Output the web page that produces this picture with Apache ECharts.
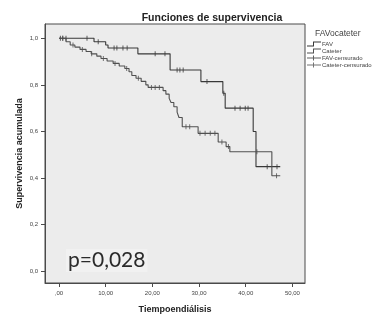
<!DOCTYPE html>
<html>
<head>
<meta charset="utf-8">
<script src="https://cdn.jsdelivr.net/npm/echarts@6/dist/echarts.min.js"></script>
<style>
  html, body { margin: 0; padding: 0; background: #ffffff; }
  #chart { width: 384px; height: 326px; }
</style>
</head>
<body>
<div id="chart"></div>
<script>
// Kaplan-Meier estimates: event times (months) and cumulative survival
const favTimes = [0, 7.5, 10.0, 10.5, 16.9, 23.8, 30.4, 35.1, 35.6, 41.6, 42.2, 47.4];
const favSurv  = [1.0, 0.985, 0.971, 0.958, 0.933, 0.864, 0.814, 0.764, 0.70, 0.60, 0.449, 0.449];

const catTimes = [0, 1.5, 2.4, 3.4, 4.5, 5.8, 6.9, 8.1, 9.0, 10.3, 11.6, 12.9, 14.1, 15.0, 15.6,
                  16.5, 17.6, 18.6, 19.1, 22.3, 22.9, 23.6, 24.0, 24.6, 25.3, 25.7, 26.4, 29.8,
                  34.1, 35.8, 36.6, 45.6, 47.4];
const catSurv  = [1.0, 0.985, 0.971, 0.962, 0.952, 0.943, 0.933, 0.923, 0.913, 0.902, 0.892, 0.881,
                  0.870, 0.856, 0.840, 0.828, 0.815, 0.800, 0.789, 0.775, 0.760, 0.742, 0.724, 0.706,
                  0.683, 0.660, 0.620, 0.592, 0.555, 0.535, 0.513, 0.41, 0.41];

// Censored observations (times)
const favCensored = [0.3, 0.8, 1.5, 6.0, 8.4, 11.8, 12.4, 13.7, 14.6, 20.6, 22.7, 25.3, 25.9, 26.6,
                     31.7, 35.3, 37.7, 38.8, 39.9, 40.5, 44.6, 46.7];
const catCensored = [0.8, 3.0, 5.0, 7.0, 9.5, 12.0, 14.5, 17.0, 19.8, 20.6, 21.5, 27.2, 28.0,
                     30.2, 31.3, 32.4, 33.4, 34.9, 36.3, 42.4, 46.6];

// Axis ticks and labels
const xTicks = [0, 10, 20, 30, 40, 50];
const xTickLabels = [',00', '10,00', '20,00', '30,00', '40,00', '50,00'];
const yTicks = [0, 0.2, 0.4, 0.6, 0.8, 1.0];
const yTickLabels = ['0,0', '0,2', '0,4', '0,6', '0,8', '1,0'];

const seriesNames = ['FAV', 'Cateter', 'FAV-censurado', 'Cateter-censurado'];
const pValueText = 'p=0,028';

function pairs(xs, ys) { return xs.map((x, i) => [x, ys[i]]); }

// Survival level of a step curve at time t
function survAt(times, surv, t) {
  let v = surv[0];
  for (let i = 0; i < times.length; i++) { if (times[i] <= t) v = surv[i]; }
  return v;
}

function censorPoints(cens, times, surv) {
  return cens.map(t => [t, survAt(times, surv, t)]);
}

const FONT = '"Liberation Sans", Arial, sans-serif';
const lineColor = '#383838';
const lineColor2 = '#505050';

const stepIcon = 'path://M0,4 L6,4 L6,0 L14,0 L14,1 L7,1 L7,5 L0,5 Z';
const censIcon = 'path://M0,2 L6,2 L6,0 L7,0 L7,2 L14,2 L14,3 L7,3 L7,5 L6,5 L6,3 L0,3 Z';

const chart = echarts.init(document.getElementById('chart'), null, { renderer: 'canvas' });

chart.setOption({
  animation: false,
  backgroundColor: '#ffffff',
  title: {
    text: 'Funciones de supervivencia',
    left: 207, top: 8, textAlign: 'center',
    textStyle: { fontFamily: FONT, fontSize: 10.5, fontWeight: 'bold', color: '#222' }
  },
  legend: {
    orient: 'vertical',
    left: 307, top: 41,
    padding: 0,
    itemGap: 1,
    itemWidth: 14, itemHeight: 5,
    data: [
      { name: seriesNames[0], icon: stepIcon },
      { name: seriesNames[1], icon: stepIcon },
      { name: seriesNames[2], icon: censIcon },
      { name: seriesNames[3], icon: censIcon }
    ],
    textStyle: { fontFamily: FONT, fontSize: 6, lineHeight: 5, color: '#444', padding: [0, 0, 0, -4] }
  },
  graphic: [
    {
      type: 'text', left: 315, top: 29,
      style: { text: 'FAVocateter', fontFamily: FONT, fontSize: 8.5, fill: '#444' }
    },
    {
      type: 'text', left: 66, top: 249, z: 10,
      style: {
        text: pValueText, fontFamily: 'Lato, "Liberation Sans", sans-serif', fontSize: 21,
        fill: '#2a2a2a', backgroundColor: '#f1f1f1', padding: [1, 2, 1, 2]
      }
    }
  ],
  grid: {
    left: 45, top: 24, width: 260, height: 259,
    show: true, backgroundColor: '#ececec', borderColor: '#4a4a4a', borderWidth: 1
  },
  xAxis: {
    type: 'value', min: -3.0, max: 52.7,
    name: 'Tiempoendiálisis', nameLocation: 'middle', nameGap: 22, nameMoveOverlap: false,
    nameTextStyle: { fontFamily: FONT, fontSize: 9, fontWeight: 'bold', color: '#222' },
    axisLine: { show: true, onZero: false, lineStyle: { color: '#4a4a4a', width: 1 } },
    axisTick: { show: true, length: 4, customValues: xTicks, lineStyle: { color: '#4a4a4a' } },
    axisLabel: {
      customValues: xTicks, margin: 7, fontFamily: FONT, fontSize: 6, color: '#444',
      formatter: v => xTickLabels[xTicks.indexOf(Math.round(v))] || ''
    },
    splitLine: { show: false }
  },
  yAxis: {
    type: 'value', min: -0.05, max: 1.061,
    name: 'Supervivencia acumulada', nameLocation: 'middle', nameGap: 21, nameRotate: 90,
    nameMoveOverlap: false,
    nameTextStyle: { fontFamily: FONT, fontSize: 9, fontWeight: 'bold', color: '#222' },
    axisLine: { show: true, onZero: false, lineStyle: { color: '#4a4a4a', width: 1 } },
    axisTick: { show: true, length: 4, customValues: yTicks, lineStyle: { color: '#4a4a4a' } },
    axisLabel: {
      customValues: yTicks, margin: 7, fontFamily: FONT, fontSize: 6, color: '#444',
      formatter: v => yTickLabels[yTicks.findIndex(t => Math.abs(t - v) < 1e-6)] || ''
    },
    splitLine: { show: false }
  },
  series: [
    {
      name: seriesNames[0], type: 'line', step: 'end', showSymbol: false,
      data: pairs(favTimes, favSurv),
      lineStyle: { color: lineColor, width: 1.1 }, itemStyle: { color: lineColor }
    },
    {
      name: seriesNames[1], type: 'line', step: 'end', showSymbol: false,
      data: pairs(catTimes, catSurv),
      lineStyle: { color: lineColor2, width: 1.1 }, itemStyle: { color: lineColor2 }
    },
    {
      name: seriesNames[2], type: 'scatter', symbol: 'rect', symbolSize: [1, 5],
      data: censorPoints(favCensored, favTimes, favSurv),
      itemStyle: { color: lineColor }
    },
    {
      name: seriesNames[3], type: 'scatter', symbol: 'rect', symbolSize: [1, 5],
      data: censorPoints(catCensored, catTimes, catSurv),
      itemStyle: { color: lineColor2 }
    }
  ]
});
</script>
</body>
</html>
